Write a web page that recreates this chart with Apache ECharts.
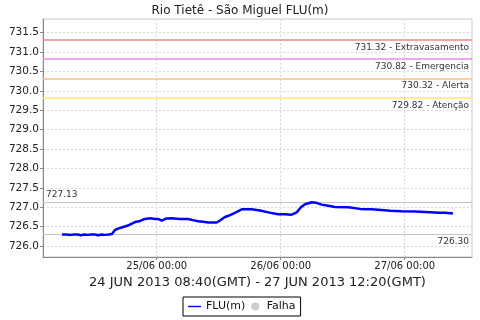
<!DOCTYPE html>
<html>
<head>
<meta charset="utf-8">
<script src="https://cdn.jsdelivr.net/npm/echarts@6/dist/echarts.min.js"></script>
<style>html,body{margin:0;padding:0;background:#fff}#c{width:480px;height:320px}</style>
</head>
<body>
<div id="c"></div>
<script>
// hours since 24/06/2013 00:00 (local time)
const times = [5.67, 6.5, 7.33, 8.0, 8.67, 9.33, 10.0, 10.67, 11.33, 12.0, 12.67, 13.33, 14.0, 14.67, 15.33, 15.9, 16.5, 17.2, 18.4, 19.8, 20.8, 21.7, 22.7, 23.7, 24.25, 24.97, 25.8, 26.9, 28.5, 30.1, 31.0, 32.05, 33.0, 34.0, 35.6, 36.25, 37.2, 38.2, 39.15, 40.45, 42.4, 44.0, 45.6, 47.5, 48.8, 50.1, 51.1, 51.9, 52.7, 54.0, 54.8, 55.9, 57.2, 58.5, 61.1, 63.35, 65.6, 67.5, 69.2, 71.4, 74.0, 75.9, 78.8, 79.8, 81.33];
const values = [726.30, 726.30, 726.29, 726.30, 726.30, 726.28, 726.30, 726.29, 726.30, 726.30, 726.28, 726.30, 726.29, 726.30, 726.31, 726.41, 726.45, 726.48, 726.53, 726.62, 726.65, 726.70, 726.72, 726.70, 726.70, 726.66, 726.71, 726.72, 726.70, 726.70, 726.67, 726.64, 726.63, 726.61, 726.61, 726.66, 726.75, 726.80, 726.86, 726.95, 726.95, 726.92, 726.87, 726.82, 726.82, 726.81, 726.87, 727.00, 727.08, 727.13, 727.12, 727.07, 727.04, 727.01, 727.00, 726.96, 726.95, 726.93, 726.91, 726.90, 726.89, 726.88, 726.86, 726.86, 726.84];
const xTickValues = [24, 48, 72];
const xTickLabels = ['25/06 00:00', '26/06 00:00', '27/06 00:00'];
const yTickValues = [726.0, 726.5, 727.0, 727.5, 728.0, 728.5, 729.0, 729.5, 730.0, 730.5, 731.0, 731.5];
const thresholdValues = [731.32, 730.82, 730.32, 729.82];
const thresholdNames = ['Extravasamento', 'Emergencia', 'Alerta', 'Atenção'];
const thresholdColors = ['#f08888', '#ee88ee', '#ffc080', '#ffe870'];
const maxValue = 727.13;
const minValue = 726.30;
const titleText = 'Rio Tietê - São Miguel FLU(m)';
const xAxisName = '24 JUN 2013 08:40(GMT) - 27 JUN 2013 12:20(GMT)';

const chart = echarts.init(document.getElementById('c'), null, {renderer: 'canvas'});
const font = 'DejaVu Sans';
const lblStyle = {color: '#333', fontSize: 9, fontFamily: font, distance: [3, 3]};

const thresholdSeries = thresholdValues.map((v, i) => ({
  name: 'thr' + i, type: 'line', data: [], z: 1, color: thresholdColors[i],
  markLine: {silent: true, symbol: 'none', animation: false, z: 1,
    lineStyle: {color: thresholdColors[i], width: 1.5, type: 'solid', opacity: 1},
    label: Object.assign({show: true, position: 'insideEndBottom',
      formatter: v.toFixed(2) + ' - ' + thresholdNames[i]}, lblStyle),
    data: [{yAxis: v}]}
}));

chart.setOption({
  animation: false,
  backgroundColor: '#fff',
  title: {text: titleText, left: 'center', top: 2, padding: [3, 0, 0, 0],
    textStyle: {fontSize: 12, fontWeight: 'normal', color: '#222', fontFamily: font}},
  legend: {
    left: 183, top: 297, itemGap: 6, padding: [4, 5],
    borderColor: '#000', borderWidth: 1, backgroundColor: '#fff',
    itemWidth: 13, itemHeight: 8,
    textStyle: {fontSize: 11, color: '#111', fontFamily: font},
    data: [{name: 'FLU(m)', icon: 'path://M0,4L14,4L14,5.5L0,5.5Z'}, {name: 'Falha', icon: 'circle'}]
  },
  grid: {left: 43, right: 8, top: 19, bottom: 63, show: true, borderColor: '#c8c8c8', borderWidth: 1},
  xAxis: {
    type: 'value', min: 1.99, max: 85.02,
    name: xAxisName, nameLocation: 'middle', nameGap: 18,
    nameTextStyle: {fontSize: 13, color: '#222', fontFamily: font},
    axisLine: {show: true, lineStyle: {color: '#888'}},
    axisTick: {show: true, length: 3, customValues: xTickValues, lineStyle: {color: '#888'}},
    axisLabel: {customValues: xTickValues, margin: 4, fontSize: 10, color: '#222', fontFamily: font,
      formatter: v => xTickLabels[xTickValues.indexOf(v)]},
    splitLine: {show: true, lineStyle: {color: '#d8d8d8', type: [2, 2]}}
  },
  yAxis: {
    type: 'value', min: 725.72, max: 731.853,
    axisLine: {show: true, lineStyle: {color: '#888'}},
    axisTick: {show: true, length: 3, customValues: yTickValues, lineStyle: {color: '#888'}},
    axisLabel: {customValues: yTickValues, margin: 4, fontSize: 10.5, color: '#222', fontFamily: font,
      formatter: v => v.toFixed(1)},
    splitLine: {show: true, lineStyle: {color: '#d8d8d8', type: [2, 2]}}
  },
  series: thresholdSeries.concat([
    {name: 'Falha', type: 'scatter', color: '#c0c0c0', data: [], z: 1,
      markLine: {silent: true, symbol: 'none', animation: false, z: 1,
        lineStyle: {color: '#c4c4c4', width: 1, type: 'solid'},
        data: [
          {yAxis: maxValue, label: Object.assign({show: true, position: 'insideStartTop', formatter: maxValue.toFixed(2)}, lblStyle)},
          {yAxis: minValue, label: Object.assign({show: true, position: 'insideEndBottom', formatter: minValue.toFixed(2)}, lblStyle)}
        ]}
    },
    {name: 'FLU(m)', type: 'line', showSymbol: false, symbol: 'none', z: 5,
      color: '#0000ff', lineStyle: {color: '#0000ff', width: 2.5},
      data: times.map((t, i) => [t, values[i]])
    }
  ])
});
</script>
</body>
</html>
